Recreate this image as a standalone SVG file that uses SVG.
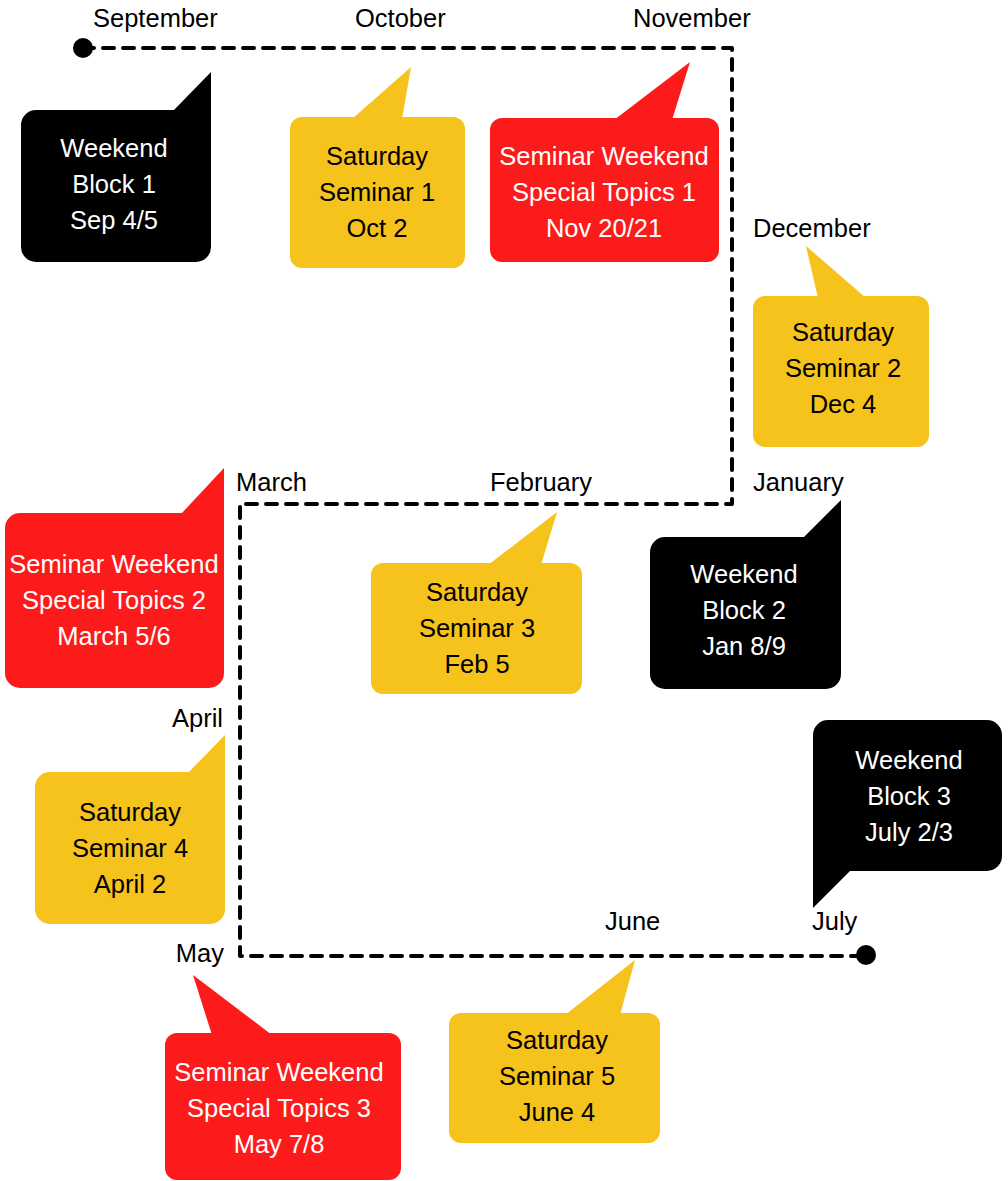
<svg xmlns="http://www.w3.org/2000/svg" width="1008" height="1181" viewBox="0 0 1008 1181">
<style>
.m{font-family:"Liberation Sans",Arial,sans-serif;font-size:25.5px;fill:#000}
.t{font-family:"Liberation Sans",Arial,sans-serif;font-size:25.5px;text-anchor:middle}
.y{fill:#F6C21C}
.r{fill:#FD1A1B}
.k{fill:#000}
.yt{fill:#000}
.wt{fill:#fff}
.line{fill:none;stroke:#000;stroke-width:4;stroke-dasharray:11 9;stroke-linecap:round;stroke-linejoin:round}
</style>
<rect width="1008" height="1181" fill="#fff"/>
<g id="connectors">
<path class="line" d="M83 48 H732 V504 H240 V956 H866"/>
<circle cx="83" cy="48" r="10" fill="#000"/>
<circle cx="866" cy="955" r="10" fill="#000"/>
</g>
<g id="months">
<text class="m" x="93" y="27">September</text>
<text class="m" x="355" y="27">October</text>
<text class="m" x="633" y="27">November</text>
<text class="m" x="753" y="237">December</text>
<text class="m" x="753" y="491">January</text>
<text class="m" x="490" y="491">February</text>
<text class="m" x="236" y="491">March</text>
<text class="m" x="223" y="727" text-anchor="end">April</text>
<text class="m" x="224" y="962" text-anchor="end">May</text>
<text class="m" x="605" y="930">June</text>
<text class="m" x="812" y="930">July</text>
</g>
<g id="block1">
<rect class="k" x="21" y="110" width="190" height="152" rx="15"/>
<polygon class="k" points="173,111 211,72 211,130 173,130"/>
<text class="t wt"><tspan x="114" y="157">Weekend</tspan><tspan x="114" y="193">Block 1</tspan><tspan x="114" y="229">Sep 4/5</tspan></text>
</g>
<g id="seminar1">
<rect class="y" x="290" y="117" width="175" height="151" rx="12"/>
<polygon class="y" points="352,119 411,67 402,119"/>
<text class="t yt"><tspan x="377" y="165">Saturday</tspan><tspan x="377" y="201">Seminar 1</tspan><tspan x="377" y="237">Oct 2</tspan></text>
</g>
<g id="special1">
<rect class="r" x="490" y="118" width="229" height="144" rx="12"/>
<polygon class="r" points="614,120 690,62 672,120"/>
<text class="t wt"><tspan x="604" y="165">Seminar Weekend</tspan><tspan x="604" y="201">Special Topics 1</tspan><tspan x="604" y="237">Nov 20/21</tspan></text>
</g>
<g id="seminar2">
<rect class="y" x="753" y="296" width="176" height="151" rx="12"/>
<polygon class="y" points="818,298 806,246 866,298"/>
<text class="t yt"><tspan x="843" y="341">Saturday</tspan><tspan x="843" y="377">Seminar 2</tspan><tspan x="843" y="413">Dec 4</tspan></text>
</g>
<g id="special2">
<rect class="r" x="5" y="513" width="219" height="175" rx="15"/>
<polygon class="r" points="181,514 224,468 224,530 181,530"/>
<text class="t wt"><tspan x="114" y="573">Seminar Weekend</tspan><tspan x="114" y="609">Special Topics 2</tspan><tspan x="114" y="645">March 5/6</tspan></text>
</g>
<g id="seminar3">
<rect class="y" x="371" y="563" width="211" height="131" rx="12"/>
<polygon class="y" points="488,565 557,512 541,565"/>
<text class="t yt"><tspan x="477" y="601">Saturday</tspan><tspan x="477" y="637">Seminar 3</tspan><tspan x="477" y="673">Feb 5</tspan></text>
</g>
<g id="block2">
<rect class="k" x="650" y="537" width="191" height="152" rx="15"/>
<polygon class="k" points="803,538 841,500 841,555 803,555"/>
<text class="t wt"><tspan x="744" y="583">Weekend</tspan><tspan x="744" y="619">Block 2</tspan><tspan x="744" y="655">Jan 8/9</tspan></text>
</g>
<g id="seminar4">
<rect class="y" x="35" y="772" width="190" height="152" rx="15"/>
<polygon class="y" points="188,773 225,735 225,790 188,790"/>
<text class="t yt"><tspan x="130" y="821">Saturday</tspan><tspan x="130" y="857">Seminar 4</tspan><tspan x="130" y="893">April 2</tspan></text>
</g>
<g id="special3">
<rect class="r" x="165" y="1033" width="236" height="147" rx="12"/>
<polygon class="r" points="212,1035 193,975 272,1035"/>
<text class="t wt"><tspan x="279" y="1081">Seminar Weekend</tspan><tspan x="279" y="1117">Special Topics 3</tspan><tspan x="279" y="1153">May 7/8</tspan></text>
</g>
<g id="seminar5">
<rect class="y" x="449" y="1013" width="211" height="130" rx="12"/>
<polygon class="y" points="565,1015 635,960 620,1015"/>
<text class="t yt"><tspan x="557" y="1049">Saturday</tspan><tspan x="557" y="1085">Seminar 5</tspan><tspan x="557" y="1121">June 4</tspan></text>
</g>
<g id="block3">
<rect class="k" x="813" y="720" width="189" height="151" rx="15"/>
<polygon class="k" points="813,850 851,850 851,870 813,908"/>
<text class="t wt"><tspan x="909" y="769">Weekend</tspan><tspan x="909" y="805">Block 3</tspan><tspan x="909" y="841">July 2/3</tspan></text>
</g>
</svg>
